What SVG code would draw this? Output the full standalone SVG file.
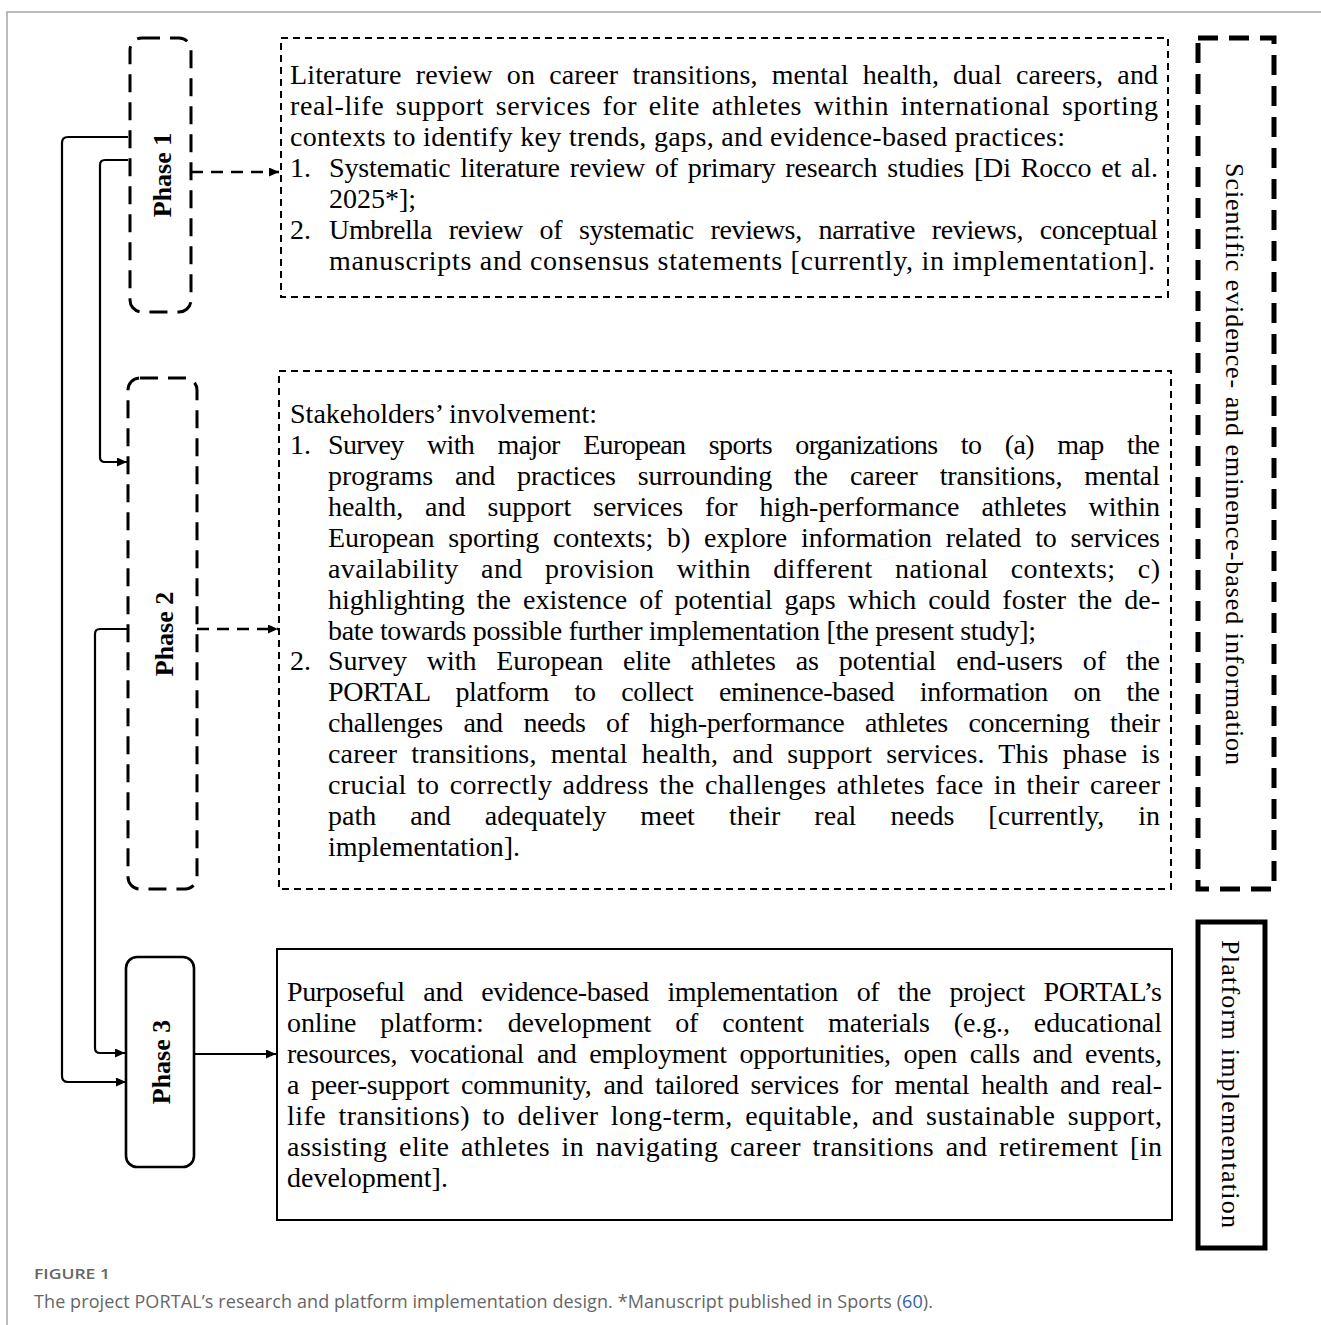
<svg xmlns="http://www.w3.org/2000/svg" width="1321" height="1325" viewBox="0 0 1321 1325">
<style>
.t{font-family:"Liberation Serif","Times New Roman",serif;font-size:28px;fill:#000}
.ph{font-family:"Liberation Serif","Times New Roman",serif;font-size:26px;font-weight:bold;fill:#000;text-anchor:middle}
.sd{font-family:"Liberation Serif","Times New Roman",serif;font-size:26px;fill:#000;text-anchor:middle}
.phbox{fill:none;stroke:#000;stroke-width:3;stroke-dasharray:18 10}
.tbox{fill:none;stroke:#000;stroke-width:2;stroke-dasharray:7 5}
.solid{fill:none;stroke:#000;stroke-width:2.2}
.dashc{fill:none;stroke:#000;stroke-width:2.6;stroke-dasharray:12 8}
.cap{font-family:"Open Sans","Liberation Sans",sans-serif;fill:#666}
</style>
<defs>
<marker id="ah" markerUnits="userSpaceOnUse" markerWidth="10" markerHeight="9" refX="10" refY="4.5" orient="auto">
<path d="M0,0 L10,4.5 L0,9 z" fill="#000"/>
</marker>
</defs>
<rect width="1321" height="1325" fill="#fff"/>
<path d="M7,1325 V12 H1321" fill="none" stroke="#a6a6a6" stroke-width="1.5"/>

<g id="connectors">
<path class="solid" d="M128,137 H68 Q62,137 62,143 V1076 Q62,1082 68,1082 H126" marker-end="url(#ah)"/>
<path class="solid" d="M128,160 H105 Q100,160 100,165 V457 Q100,462 105,462 H127" marker-end="url(#ah)"/>
<path class="solid" d="M128,629 H100 Q95,629 95,634 V1048 Q95,1053 100,1053 H125" marker-end="url(#ah)"/>
<path class="dashc" d="M191,172 H279" marker-end="url(#ah)"/>
<path class="dashc" d="M197,629 H278" marker-end="url(#ah)"/>
<path class="solid" d="M194,1054 H276" marker-end="url(#ah)"/>
</g>

<g id="phase1">
<rect class="phbox" x="130" y="38" width="61" height="274" rx="12"/>
<text class="ph" transform="translate(171,175) rotate(-90)">Phase 1</text>
</g>
<g id="phase2">
<rect class="phbox" x="128" y="378" width="69" height="511" rx="12"/>
<text class="ph" transform="translate(173,634) rotate(-90)">Phase 2</text>
</g>
<g id="phase3">
<rect x="126" y="957" width="68" height="210" rx="11" fill="none" stroke="#000" stroke-width="2.6"/>
<text class="ph" transform="translate(170,1062) rotate(-90)">Phase 3</text>
</g>

<g id="box1">
<rect class="tbox" x="281" y="38" width="887" height="259"/>
<text class="t" x="290" y="84" textLength="868" lengthAdjust="spacing" word-spacing="7">Literature review on career transitions, mental health, dual careers, and</text>
<text class="t" x="290" y="115" textLength="868" lengthAdjust="spacing" word-spacing="4">real-life support services for elite athletes within international sporting</text>
<text class="t" x="290" y="146" textLength="775" lengthAdjust="spacing">contexts to identify key trends, gaps, and evidence-based practices:</text>
<text class="t" x="290" y="177">1.</text>
<text class="t" x="329" y="177" textLength="829" lengthAdjust="spacing" word-spacing="3">Systematic literature review of primary research studies [Di Rocco et al.</text>
<text class="t" x="329" y="208">2025*];</text>
<text class="t" x="290" y="239">2.</text>
<text class="t" x="329" y="239" textLength="829" lengthAdjust="spacing" word-spacing="10">Umbrella review of systematic reviews, narrative reviews, conceptual</text>
<text class="t" x="329" y="270" textLength="826" lengthAdjust="spacing">manuscripts and consensus statements [currently, in implementation].</text>
</g>

<g id="box2">
<rect class="tbox" x="279" y="371" width="892" height="518"/>
<text class="t" x="290" y="423" textLength="307" lengthAdjust="spacing">Stakeholders’ involvement:</text>
<text class="t" x="290" y="454">1.</text>
<text class="t" x="328" y="454" textLength="832" lengthAdjust="spacing" word-spacing="17">Survey with major European sports organizations to (a) map the</text>
<text class="t" x="328" y="485" textLength="832" lengthAdjust="spacing" word-spacing="15">programs and practices surrounding the career transitions, mental</text>
<text class="t" x="328" y="516" textLength="832" lengthAdjust="spacing" word-spacing="15">health, and support services for high-performance athletes within</text>
<text class="t" x="328" y="547" textLength="832" lengthAdjust="spacing" word-spacing="7">European sporting contexts; b) explore information related to services</text>
<text class="t" x="328" y="578" textLength="832" lengthAdjust="spacing" word-spacing="15">availability and provision within different national contexts; c)</text>
<text class="t" x="328" y="609" textLength="832" lengthAdjust="spacing" word-spacing="5">highlighting the existence of potential gaps which could foster the de-</text>
<text class="t" x="328" y="640" textLength="708" lengthAdjust="spacing">bate towards possible further implementation [the present study];</text>
<text class="t" x="290" y="670">2.</text>
<text class="t" x="328" y="670" textLength="832" lengthAdjust="spacing" word-spacing="13">Survey with European elite athletes as potential end-users of the</text>
<text class="t" x="328" y="701" textLength="832" lengthAdjust="spacing" word-spacing="19">PORTAL platform to collect eminence-based information on the</text>
<text class="t" x="328" y="732" textLength="832" lengthAdjust="spacing" word-spacing="14">challenges and needs of high-performance athletes concerning their</text>
<text class="t" x="328" y="763" textLength="832" lengthAdjust="spacing" word-spacing="7">career transitions, mental health, and support services. This phase is</text>
<text class="t" x="328" y="794" textLength="832" lengthAdjust="spacing" word-spacing="3">crucial to correctly address the challenges athletes face in their career</text>
<text class="t" x="328" y="825" textLength="832" lengthAdjust="spacing" word-spacing="27">path and adequately meet their real needs [currently, in</text>
<text class="t" x="328" y="856">implementation].</text>
</g>

<g id="box3">
<rect x="277" y="949" width="895" height="271" fill="none" stroke="#000" stroke-width="2"/>
<text class="t" x="287" y="1001" textLength="875" lengthAdjust="spacing" word-spacing="12">Purposeful and evidence-based implementation of the project PORTAL’s</text>
<text class="t" x="287" y="1032" textLength="875" lengthAdjust="spacing" word-spacing="17">online platform: development of content materials (e.g., educational</text>
<text class="t" x="287" y="1063" textLength="875" lengthAdjust="spacing" word-spacing="6">resources, vocational and employment opportunities, open calls and events,</text>
<text class="t" x="287" y="1094" textLength="875" lengthAdjust="spacing" word-spacing="5">a peer-support community, and tailored services for mental health and real-</text>
<text class="t" x="287" y="1125" textLength="875" lengthAdjust="spacing" word-spacing="5">life transitions) to deliver long-term, equitable, and sustainable support,</text>
<text class="t" x="287" y="1156" textLength="875" lengthAdjust="spacing" word-spacing="4">assisting elite athletes in navigating career transitions and retirement [in</text>
<text class="t" x="287" y="1187">development].</text>
</g>

<g id="evidence">
<rect x="1198" y="38" width="76" height="851" fill="none" stroke="#000" stroke-width="5" stroke-dasharray="20 11"/>
<text class="sd" transform="translate(1226,464) rotate(90)" textLength="602" lengthAdjust="spacing">Scientific evidence- and eminence-based information</text>
</g>
<g id="platform">
<rect x="1198" y="922" width="67" height="326" fill="none" stroke="#000" stroke-width="5"/>
<text class="sd" transform="translate(1222,1084) rotate(90)" textLength="288" lengthAdjust="spacing">Platform implementation</text>
</g>

<g id="caption">
<text class="cap" x="34" y="1279" font-size="15" font-weight="600" textLength="76" lengthAdjust="spacingAndGlyphs">FIGURE 1</text>
<text class="cap" x="34" y="1308" font-size="18" textLength="899" lengthAdjust="spacing">The project PORTAL’s research and platform implementation design. *Manuscript published in Sports (<tspan fill="#2b5fb4">60</tspan>).</text>
</g>
</svg>
